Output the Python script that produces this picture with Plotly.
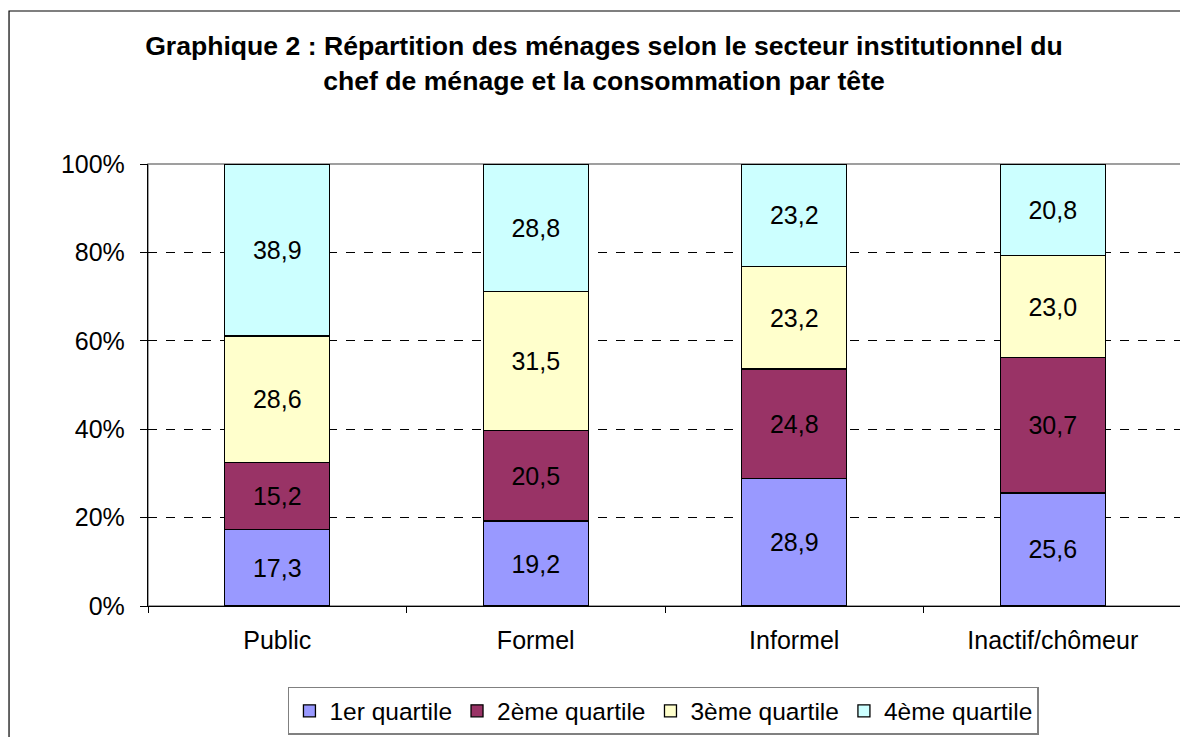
import plotly.graph_objects as go

categories = ["Public", "Formel", "Informel", "Inactif/chômeur"]
q1 = [17.3, 19.2, 28.9, 25.6]
q2 = [15.2, 20.5, 24.8, 30.7]
q3 = [28.6, 31.5, 23.2, 23.0]
q4 = [38.9, 28.8, 23.2, 20.8]
series_names = ["1er quartile", "2ème quartile", "3ème quartile", "4ème quartile"]
colors = ["#9999FF", "#993366", "#FFFFCC", "#CCFFFF"]
y_ticks = [0, 20, 40, 60, 80, 100]
y_labels = ["0%", "20%", "40%", "60%", "80%", "100%"]

FONT = "Arial, Liberation Sans, sans-serif"

def fmt(v):
    return f"{v:.1f}".replace(".", ",")

fig = go.Figure()
for name, vals, col in zip(series_names, [q1, q2, q3, q4], colors):
    fig.add_trace(go.Bar(
        x=categories, y=vals, name=name,
        marker=dict(color=col, line=dict(color="black", width=1.3)),
        text=[fmt(v) for v in vals],
        textposition="inside", insidetextanchor="middle",
        textangle=0, constraintext="none",
        textfont=dict(size=25, color="black", family=FONT),
    ))

# page body has an 8px margin, so the figure is shifted by 8px
fig.update_layout(
    barmode="stack", barnorm="percent", bargap=0.594,
    width=1180, height=729,
    margin=dict(l=140, r=6, t=156, b=131, autoexpand=False),
    paper_bgcolor="white", plot_bgcolor="white",
    font=dict(family=FONT, color="black", size=25),
    title=dict(
        text="<b>Graphique 2 : Répartition des ménages selon le secteur institutionnel du<br>chef de ménage et la consommation par tête</b>",
        x=596 / 1180, xanchor="center", y=1 - 47 / 729, yanchor="middle",
        font=dict(size=26.6, family=FONT, color="black"),
    ),
    legend=dict(
        orientation="h", traceorder="normal",
        x=0.4985, xanchor="center", y=-0.183, yanchor="top",
        bordercolor="#808080", borderwidth=1.5, bgcolor="white",
        font=dict(size=24.5, family=FONT, color="black"),
        itemwidth=30, tracegroupgap=0,
    ),
    showlegend=True,
    shapes=[
        # plot area border (gray)
        dict(type="rect", xref="paper", yref="paper", x0=0, x1=1, y0=0, y1=1,
             line=dict(color="#808080", width=1.5), layer="between"),
        # chart frame
        dict(type="rect", xref="paper", yref="paper", x0=-0.1344, x1=1.02, y0=-0.45, y1=1.3462,
             line=dict(color="black", width=1.2)),
    ],
)

fig.update_yaxes(
    range=[0, 100], tickvals=y_ticks, ticktext=y_labels,
    showgrid=True, gridcolor="black", griddash="dash", gridwidth=1,
    showline=True, linecolor="black", linewidth=1.3,
    ticks="outside", ticklen=7, tickcolor="black",
    ticklabelstandoff=10, tickfont=dict(size=25),
    zeroline=False,
)
fig.update_xaxes(
    showline=True, linecolor="black", linewidth=1.3,
    ticks="outside", tickson="boundaries", ticklen=6, tickcolor="black",
    ticklabelstandoff=12, tickfont=dict(size=25),
)

fig.write_html("out.html")
